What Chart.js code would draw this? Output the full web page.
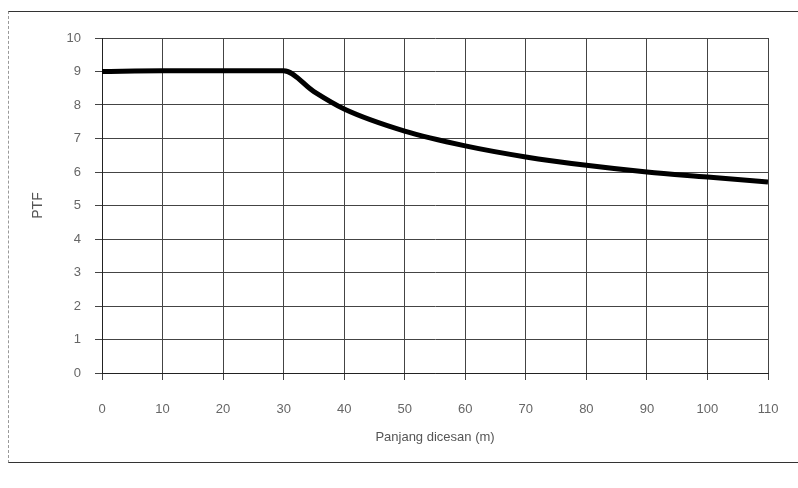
<!DOCTYPE html>
<html>
<head>
<meta charset="utf-8">
<script src="https://cdn.jsdelivr.net/npm/chart.js@4"></script>
<style>
  html, body { margin: 0; padding: 0; background: #fff; }
  #wrap { position: relative; width: 798px; height: 488px; }
  #frame {
    position: absolute; left: 8px; top: 11px; width: 800px; height: 450px;
    border-top: 1px solid #333; border-bottom: 1px solid #333;
    border-left: 1px dashed #999; pointer-events: none;
  }
</style>
</head>
<body>
<div id="wrap">
  <canvas id="grafico" width="798" height="488"></canvas>
  <div id="frame"></div>
</div>
<script>
const panjang = [0, 10, 20, 30, 35, 40, 50, 60, 70, 80, 90, 100, 110];
const nilaiPTF = [9, 9.02, 9.02, 9.02, 8.4, 7.88, 7.22, 6.78, 6.45, 6.2, 6.0, 5.85, 5.7];
const ticksX = [0, 10, 20, 30, 40, 50, 60, 70, 80, 90, 100, 110];
const ticksY = [0, 1, 2, 3, 4, 5, 6, 7, 8, 9, 10];

document.addEventListener('DOMContentLoaded', () => {
    const ctx = document.getElementById('grafico').getContext('2d');
    const fonte = { family: 'Liberation Sans', size: 13 };

    new Chart(ctx, {
        type: 'line',
        data: {
            datasets: [{
                label: 'PTF',
                data: panjang.map((x, i) => ({ x: x, y: nilaiPTF[i] })),
                borderColor: '#000',
                borderWidth: 5,
                pointRadius: 0,
                cubicInterpolationMode: 'monotone',
                fill: false
            }]
        },
        options: {
            responsive: false,
            animation: false,
            layout: { padding: { left: 30, right: 30, top: 38, bottom: 35 } },
            plugins: { legend: { display: false }, tooltip: { enabled: false } },
            scales: {
                x: {
                    type: 'linear',
                    min: 0, max: 110,
                    afterBuildTicks: s => { s.ticks = ticksX.map(v => ({ value: v })); },
                    afterFit: s => { s.height = 80; s.paddingRight = 0; s.paddingLeft = 0; },
                    grid: { color: '#444', lineWidth: 1, tickLength: 7 },
                    border: { color: '#222', width: 1 },
                    ticks: { color: '#666', font: fonte, padding: 22, maxRotation: 0 },
                    title: { display: true, text: 'Panjang dicesan (m)', color: '#555', font: fonte, padding: { top: 2, bottom: 8 } }
                },
                y: {
                    min: 0, max: 10,
                    afterBuildTicks: s => { s.ticks = ticksY.map(v => ({ value: v })); },
                    afterFit: s => { s.width = 72; s.paddingTop = 0; s.paddingBottom = 0; },
                    grid: { color: '#444', lineWidth: 1, tickLength: 7 },
                    border: { color: '#222', width: 1 },
                    ticks: { color: '#666', font: fonte, padding: 14 },
                    title: { display: true, text: 'PTF', color: '#555', font: { family: 'Liberation Sans', size: 14 }, padding: { top: 0, bottom: 10 } }
                }
            }
        }
    });
});
</script>
</body>
</html>
